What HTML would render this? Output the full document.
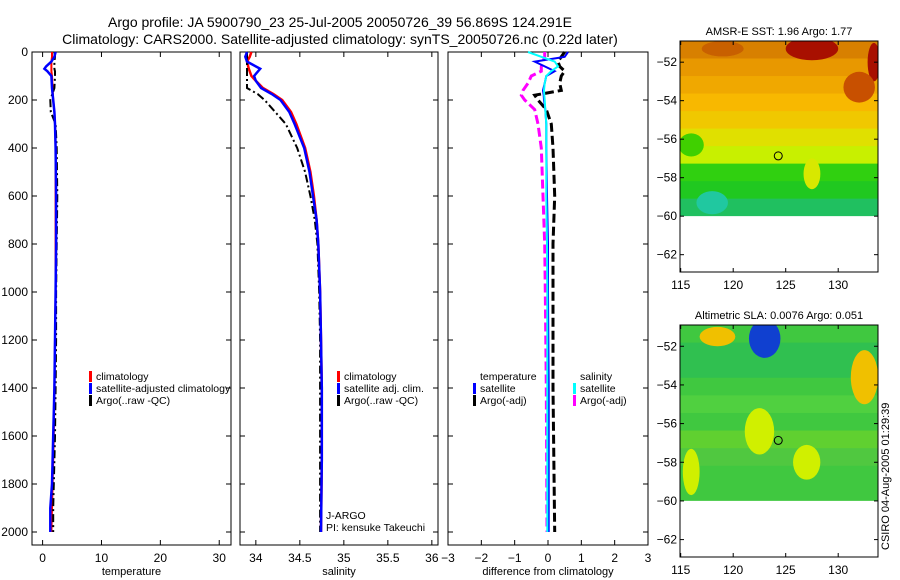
<!DOCTYPE html>
<html><head><meta charset="utf-8">
<style>
html,body{margin:0;padding:0;background:#fff;}
svg{display:block;font-family:"Liberation Sans",sans-serif;}
</style></head>
<body>
<svg id="fig" width="900" height="580" viewBox="0 0 900 580" xmlns="http://www.w3.org/2000/svg">
<text x="340" y="27" font-size="14" text-anchor="middle">Argo profile: JA 5900790_23 25-Jul-2005 20050726_39 56.869S 124.291E</text>
<text x="340" y="44" font-size="14" text-anchor="middle">Climatology: CARS2000. Satellite-adjusted climatology: synTS_20050726.nc (0.22d later)</text>
<g id="plots"></g>
</svg>
<script>
// ---- depth/profile data ----
const depthsT = [0,20,40,60,70,80,100,150,200,250,300,400,600,800,1000,1200,1400,1600,1800,1900,2000];
const tempClim = [1.6,1.6,1.5,1.5,1.5,1.5,1.6,1.7,1.8,2.0,2.1,2.2,2.2,2.2,2.2,2.1,2.0,1.9,1.7,1.6,1.5];
const tempSat  = [2.2,2.0,1.5,0.6,0.3,0.8,1.5,1.6,1.8,2.0,2.1,2.2,2.3,2.3,2.2,2.1,2.0,1.8,1.6,1.3,1.3];
const tempArgo = [2.0,2.1,2.0,2.0,2.0,2.1,2.1,2.0,1.3,1.4,2.2,2.4,2.5,2.4,2.3,2.3,2.2,2.1,1.9,1.8,1.8];
const depthsS = [0,20,40,70,100,120,150,175,200,250,300,400,500,600,700,800,1000,1200,1400,1700,2000];
const salClim = [33.95,33.93,33.9,33.92,33.95,34.0,34.08,34.2,34.3,34.4,34.46,34.56,34.62,34.66,34.69,34.71,34.73,34.74,34.75,34.75,34.74];
const salSat  = [33.9,33.88,33.9,34.05,33.98,34.0,34.06,34.18,34.28,34.38,34.44,34.55,34.61,34.65,34.69,34.71,34.73,34.74,34.75,34.75,34.74];
const salArgo = [33.9,33.9,33.9,33.9,33.9,33.9,33.9,34.02,34.1,34.22,34.34,34.47,34.56,34.62,34.67,34.7,34.72,34.73,34.73,34.73,34.73];
const depthsD = [0,20,40,60,80,100,130,160,180,200,240,300,400,600,800,1000,1400,2000];
const dTempSat = [0.6,0.5,-0.4,-0.1,0.2,-0.05,-0.1,-0.15,-0.13,-0.12,-0.08,-0.05,-0.05,-0.03,0.0,0.0,0.02,0.02];
const dSalSat  = [-0.6,-0.2,0.2,0.3,0.1,-0.05,-0.1,-0.12,-0.11,-0.1,-0.08,-0.05,-0.05,-0.05,-0.03,-0.02,-0.02,-0.02];
const dTempArgo = [0.5,0.4,0.3,0.35,0.5,0.4,0.35,0.4,-0.4,-0.3,-0.05,0.1,0.15,0.2,0.15,0.15,0.15,0.2];
const dSalArgo  = [-0.1,-0.1,-0.15,-0.2,-0.2,-0.5,-0.6,-0.75,-0.8,-0.7,-0.4,-0.3,-0.2,-0.15,-0.1,-0.08,-0.05,-0.03];
const depthTicks = [0,200,400,600,800,1000,1200,1400,1600,1800,2000];
const tempTicks = [0,10,20,30];
const salTicks = [34,34.5,35,35.5,36];
const salTickLabels = ["34","34.5","35","35.5","36"];
const diffTicks = [-3,-2,-1,0,1,2,3];
const diffTickLabels = ["\u22123","\u22122","\u22121","0","1","2","3"];
// ---- maps ----
const mapLonTicks = [115,120,125,130];
const mapLatTicks = [-52,-54,-56,-58,-60,-62];
const floatLon = 124.291, floatLat = -56.869;

const NS="http://www.w3.org/2000/svg";
const root=document.getElementById('plots');
function el(tag,attrs,parent){const e=document.createElementNS(NS,tag);for(const k in attrs)e.setAttribute(k,attrs[k]);(parent||root).appendChild(e);return e;}
function txt(x,y,s,size,anchor,parent){const t=el('text',{x:x,y:y,'font-size':size,'text-anchor':anchor||'start'},parent);t.textContent=s;return t;}

const yTop=52, yPx=0.24, yBot=545;
const yD=d=>yTop+d*yPx;

function panel(name,x0,x1,xmin,xmax,ticks,labels,xlabel,showY){
  const g=el('g',{});
  
  
  const xs=v=>x0+(v-xmin)/(xmax-xmin)*(x1-x0);
  el('rect',{x:x0,y:yTop,width:x1-x0,height:yBot-yTop,fill:'none',stroke:'#000','stroke-width':1},g);
  ticks.forEach((v,i)=>{const x=xs(v);
    el('line',{x1:x,y1:yBot,x2:x,y2:yBot-5,stroke:'#000'},g);
    el('line',{x1:x,y1:yTop,x2:x,y2:yTop+5,stroke:'#000'},g);
    const t=txt(x,yBot+17,labels[i],12,'middle',g);
    
    
  });
  depthTicks.forEach(d=>{const y=yD(d);
    el('line',{x1:x0,y1:y,x2:x0+5,y2:y,stroke:'#000'},g);
    el('line',{x1:x1,y1:y,x2:x1-5,y2:y,stroke:'#000'},g);
    if(showY){const t=txt(x0-4,y+4,String(d),12,'end',g);
      
      }
  });
  const xl=txt((x0+x1)/2,yBot+30,xlabel,11,'middle',g);
  
  
  return {g,xs};
}
function line(p,depths,vals,color,w,dash,name){
  const pts=depths.map((d,i)=>p.xs(vals[i]).toFixed(1)+','+yD(d).toFixed(1)).join(' ');
  const pl=el('polyline',{points:pts,fill:'none',stroke:color,'stroke-width':w},p.g);
  if(dash)pl.setAttribute('stroke-dasharray',dash);
  
  
}
function legend(g,x,y,items,name){
  const lg=el('g',{},g);
  
  
  items.forEach((it,i)=>{const yy=y+i*12;
    if(it[1])el('rect',{x:x,y:yy-9,width:3,height:11,fill:it[1]},lg);
    txt(x+7,yy,it[0],10.5,'start',lg);});
}

const p1=panel('temperature-panel',32,231,-1.8,32,tempTicks,tempTicks.map(String),'temperature',true);
line(p1,depthsT,tempClim,'#f00',2,null,'temperature-climatology-line');
line(p1,depthsT,tempArgo,'#000',2,'8,3,2,3','temperature-argo-line');
line(p1,depthsT,tempSat,'#00f',2.5,null,'temperature-satellite-line');
legend(p1.g,89,380,[['climatology','#f00'],['satellite-adjusted climatology','#00f'],['Argo(..raw -QC)','#000']],'temperature-legend');

const p2=panel('salinity-panel',240,438,33.82,36.07,salTicks,salTickLabels,'salinity',false);
line(p2,depthsS,salClim,'#f00',2.5,null,'salinity-climatology-line');
line(p2,depthsS,salArgo,'#000',2,'8,3,2,3','salinity-argo-line');
line(p2,depthsS,salSat,'#00f',2.5,null,'salinity-satellite-line');
legend(p2.g,337,380,[['climatology','#f00'],['satellite adj. clim.','#00f'],['Argo(..raw -QC)','#000']],'salinity-legend');
legend(p2.g,319,519,[['J-ARGO',null],['PI: kensuke Takeuchi',null]],'pi-label');

const p3=panel('difference-panel',448,648,-3,3,diffTicks,diffTickLabels,'difference from climatology',false);
line(p3,depthsD,dSalArgo,'#f0f',3,'9,4','salinity-argo-diff-line');
line(p3,depthsD,dTempArgo,'#000',3,'9,4','temperature-argo-diff-line');
line(p3,depthsD,dTempSat,'#00f',2,null,'temperature-satellite-diff-line');
line(p3,depthsD,dSalSat,'#0ff',2,null,'salinity-satellite-diff-line');
legend(p3.g,473,380,[['temperature',null],['satellite','#00f'],['Argo(-adj)','#000']],'temperature-diff-legend');
legend(p3.g,573,380,[['salinity',null],['satellite','#0ff'],['Argo(-adj)','#f0f']],'salinity-diff-legend');

// ---- maps ----
const sstRows = ['#d88000','#e89800','#f0a800','#f8b800','#f0c800','#e0e000','#c8f000','#30d010','#20c820','#20c060'];
const slaRows = ['#40c840','#30c050','#30c050','#40c840','#50d040','#40c840','#60d030','#50c840','#40c840','#40c840'];
const sstBlobs = [[127.5,-51.3,2.5,0.6,'#a81000'],[133.4,-52,0.6,1.0,'#a81000'],[132,-53.3,1.5,0.8,'#c85000'],[119,-51.3,2,0.4,'#c86000'],[118,-59.3,1.5,0.6,'#20c8a0'],[127.5,-57.8,0.8,0.8,'#d8e800'],[116,-56.3,1.2,0.6,'#40d000']];
const slaBlobs = [[123,-51.6,1.5,1.0,'#1040d0'],[118.5,-51.5,1.7,0.5,'#f0c000'],[132.5,-53.6,1.3,1.4,'#f0c000'],[122.5,-56.4,1.4,1.2,'#d0f000'],[127,-58,1.3,0.9,'#d0f000'],[116,-58.5,0.8,1.2,'#d0f000']];
function map(name,top,bot,latTop,latBot,rows,blobs,title){
  const g=el('g',{});
  
  
  const x0=680,x1=878;
  const xs=lon=>680.7+(lon-115)*10.5;
  const ys=lat=>top+(latTop-lat)/(latTop-latBot)*(bot-top);
  const y60=ys(-60);
  const n=rows.length, h=(y60-top)/n;
  const cp=el('clipPath',{id:name+'-clip'},g);
  el('rect',{x:x0,y:top,width:x1-x0,height:y60-top},cp);
  const dg=el('g',{'clip-path':'url(#'+name+'-clip)'},g);
  rows.forEach((c,i)=>el('rect',{x:x0,y:top+i*h,width:x1-x0,height:h+1,fill:c},dg));
  blobs.forEach(b=>el('ellipse',{cx:xs(b[0]),cy:ys(b[1]),rx:b[2]*10.5,ry:b[3]*(bot-top)/(latTop-latBot),fill:b[4]},dg));
  el('rect',{x:x0,y:top,width:x1-x0,height:bot-top,fill:'none',stroke:'#000'},g);
  mapLonTicks.forEach(l=>{const x=xs(l);
    el('line',{x1:x,y1:bot,x2:x,y2:bot-4,stroke:'#000'},g);
    el('line',{x1:x,y1:top,x2:x,y2:top+4,stroke:'#000'},g);
    txt(x,bot+17,String(l),12,'middle',g);});
  mapLatTicks.forEach(l=>{const y=ys(l);
    el('line',{x1:x0,y1:y,x2:x0+4,y2:y,stroke:'#000'},g);
    el('line',{x1:x1,y1:y,x2:x1-4,y2:y,stroke:'#000'},g);
    txt(x0-3,y+4,String(l).replace('-','\u2212'),12,'end',g);});
  const t=txt(779,top-6,title,11,'middle',g);
  
  
  const c=el('circle',{cx:xs(floatLon),cy:ys(floatLat),r:4,fill:'none',stroke:'#000'},g);
  
  
}
map('sst-map',41,272,-50.9,-62.9,sstRows,sstBlobs,'AMSR-E SST: 1.96 Argo: 1.77');
map('sla-map',325,557,-50.9,-62.9,slaRows,slaBlobs,'Altimetric SLA: 0.0076 Argo: 0.051');
const cr=el('text',{x:0,y:0,'font-size':11,transform:'translate(889,550) rotate(-90)'},root);
cr.textContent='CSIRO 04-Aug-2005 01:29:39';


</script>
</body></html>
